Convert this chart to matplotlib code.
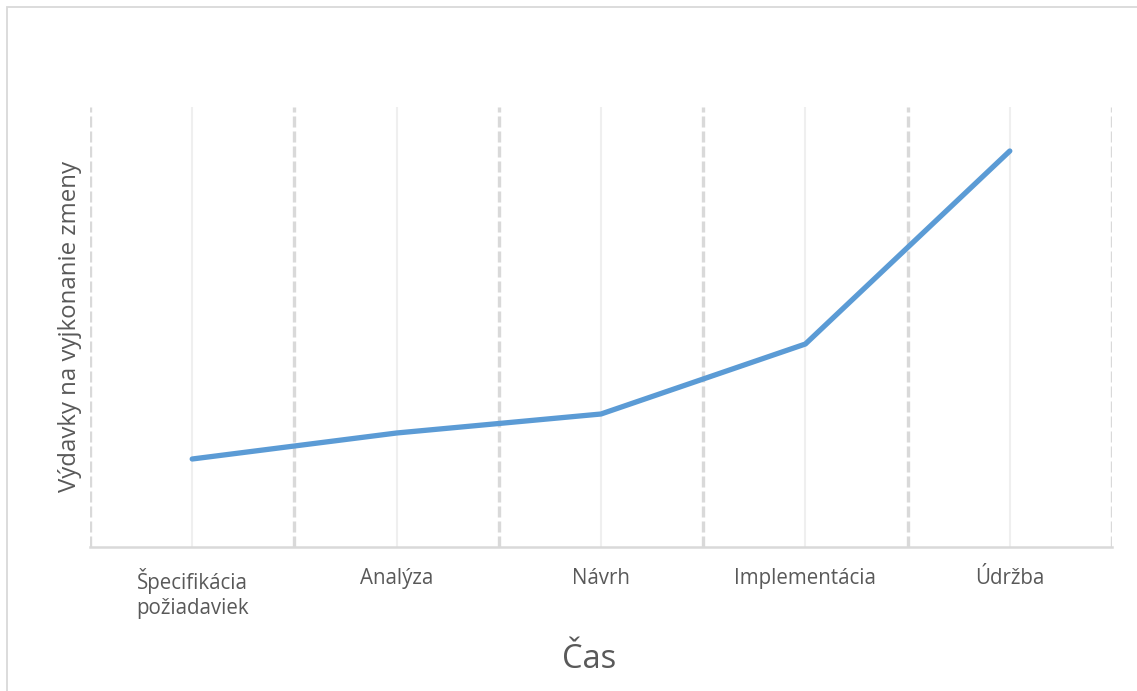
import matplotlib
matplotlib.use("Agg")
import matplotlib.pyplot as plt
from matplotlib.patches import Rectangle

# development phases and the relative cost of making a change in each
phases = ["Špecifikácia\npožiadaviek", "Analýza", "Návrh", "Implementácia", "Údržba"]
costs = [8.8, 11.4, 13.3, 20.3, 39.6]

TEXT = "#595959"
GRID = "#D9D9D9"
LINE = "#5B9BD5"

plt.rcParams["font.family"] = ["Open Sans", "DejaVu Sans"]

fig = plt.figure(figsize=(11.37, 6.91), dpi=100)
ax = fig.add_axes([90 / 1137, 1 - 547 / 691, (1112 - 90) / 1137, (547 - 107) / 691])

n = len(phases)
x = list(range(n))
ax.set_xlim(-0.5, n - 0.5)
ax.set_ylim(0, 44)

# light solid lines through each category, dashed ones between them
for xi in x:
    ax.axvline(xi, color="#EFEFEF", lw=1.5, zorder=1)
for b in range(n + 1):
    ax.axvline(b - 0.5, color=GRID, lw=2.4, ls=(0, (3.3, 1.2)), zorder=1)

ax.plot(x, costs, color=LINE, lw=3.8, solid_capstyle="round",
        solid_joinstyle="round", zorder=3)

for name, sp in ax.spines.items():
    sp.set_visible(name == "bottom")
ax.spines["bottom"].set_color(GRID)
ax.spines["bottom"].set_linewidth(1.8)

ax.set_xticks(x)
ax.set_xticklabels(phases, fontsize=14.8, color=TEXT, linespacing=1.28)
ax.set_yticks([])
ax.tick_params(axis="x", length=0, pad=15)

ax.set_ylabel("Výdavky na vyjkonanie zmeny", fontsize=17.3, color=TEXT)
ax.yaxis.set_label_coords(-8 / 1022, 0.5)
fig.text(589 / 1137, 1 - 660 / 691, "Čas", fontsize=23.5, color=TEXT,
         ha="center", va="center")

# outer chart frame
fig.patches.append(Rectangle((7 / 1137, -0.05), 1.1, 1.05 - 7.5 / 691,
                             transform=fig.transFigure, fill=False,
                             edgecolor=GRID, lw=1.3))

fig.savefig("out.png", dpi=100, facecolor="white")
